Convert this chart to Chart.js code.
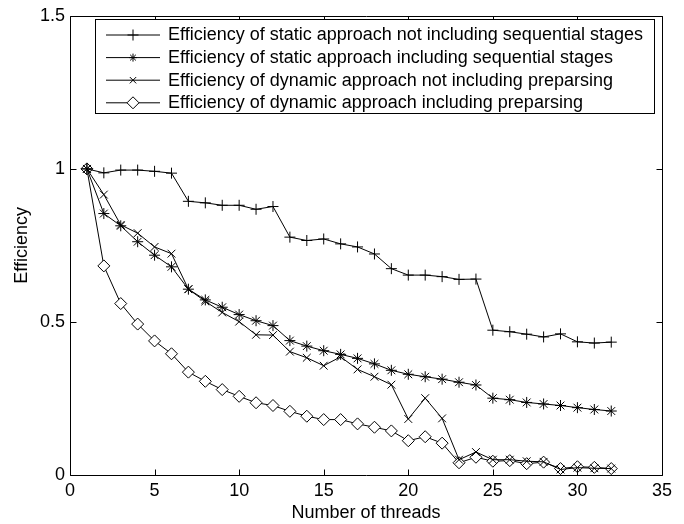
<!DOCTYPE html>
<html>
<head>
<meta charset="utf-8">
<script src="https://cdn.jsdelivr.net/npm/chart.js@4/dist/chart.umd.min.js"></script>
<style>
html,body{margin:0;padding:0;background:#fff;}
#wrap{width:684px;height:524px;position:relative;}
</style>
</head>
<body>
<div id="wrap"><canvas id="c" width="684" height="524"></canvas></div>
<script>
const threads = [1,2,3,4,5,6,7,8,9,10,11,12,13,14,15,16,17,18,19,20,21,22,23,24,25,26,27,28,29,30,31,32];
const staticNoSeq = [1.0,0.987,0.996,0.996,0.992,0.986,0.894,0.889,0.881,0.881,0.868,0.877,0.777,0.766,0.771,0.755,0.745,0.722,0.674,0.653,0.653,0.648,0.639,0.640,0.473,0.468,0.460,0.451,0.461,0.435,0.431,0.434];
const staticSeq = [1.0,0.854,0.814,0.762,0.718,0.680,0.607,0.572,0.548,0.524,0.504,0.488,0.439,0.421,0.406,0.394,0.381,0.363,0.342,0.329,0.321,0.313,0.303,0.294,0.251,0.246,0.237,0.232,0.227,0.220,0.214,0.209];
const dynNoPre = [1.0,0.916,0.817,0.790,0.745,0.723,0.607,0.567,0.531,0.501,0.458,0.457,0.403,0.383,0.357,0.386,0.345,0.321,0.295,0.183,0.251,0.185,0.050,0.075,0.050,0.050,0.045,0.043,0.018,0.024,0.022,0.021];
const dynPre = [1.0,0.683,0.560,0.493,0.438,0.396,0.336,0.306,0.279,0.257,0.236,0.227,0.208,0.192,0.181,0.181,0.167,0.156,0.144,0.112,0.125,0.104,0.040,0.058,0.045,0.047,0.037,0.042,0.021,0.027,0.025,0.021];
const seriesNames = [
  "Efficiency of static approach not including sequential stages",
  "Efficiency of static approach including sequential stages",
  "Efficiency of dynamic approach not including preparsing",
  "Efficiency of dynamic approach including preparsing"
];
const xTicks = [0,5,10,15,20,25,30,35];
const yTicks = [0,0.5,1,1.5];
const xTitle = "Number of threads";
const yTitle = "Efficiency";

const FONT = "'Liberation Sans', Arial, Helvetica, sans-serif";
const FS = 18;
const toPts = arr => threads.map((t,i)=>({x:t,y:arr[i]}));

const styles = [
  {pointStyle:'cross', pointRadius:5.5},
  {pointStyle:'star', pointRadius:5.5},
  {pointStyle:'crossRot', pointRadius:5.5},
  {pointStyle:'rectRot', pointRadius:6}
];
const values = [staticNoSeq, staticSeq, dynNoPre, dynPre];

const datasets = values.map((v,i)=>({
  label: seriesNames[i],
  data: toPts(v),
  borderColor:'#000',
  backgroundColor:'#fff',
  pointBorderColor:'#000',
  pointBackgroundColor:'#fff',
  borderWidth:1,
  pointBorderWidth:1,
  pointStyle: styles[i].pointStyle,
  pointRadius: styles[i].pointRadius,
  pointHoverRadius: styles[i].pointRadius,
  tension:0,
  fill:false
}));

const frame = {
  id:'frame',
  afterDraw(chart){
    const {ctx, chartArea:a, scales:{x,y}} = chart;
    ctx.save();
    ctx.strokeStyle='#000';
    ctx.lineWidth=1;
    ctx.beginPath();
    const L=Math.round(a.left)+0.5, R=Math.round(a.right)+0.5, T=Math.round(a.top)+0.5, B=Math.round(a.bottom)+0.5;
    ctx.rect(L,T,R-L,B-T);
    const tl=6;
    xTicks.forEach(v=>{
      const px=Math.round(x.getPixelForValue(v))+0.5;
      ctx.moveTo(px,B); ctx.lineTo(px,B-tl);
      ctx.moveTo(px,T); ctx.lineTo(px,T+tl);
    });
    yTicks.forEach(v=>{
      const py=Math.round(y.getPixelForValue(v))+0.5;
      ctx.moveTo(L,py); ctx.lineTo(L+tl,py);
      ctx.moveTo(R,py); ctx.lineTo(R-tl,py);
    });
    ctx.stroke();

    // legend
    const lx0=95.5, ly0=19.5, lw=559, lh=94;
    ctx.fillStyle='#fff';
    ctx.fillRect(lx0,ly0,lw,lh);
    ctx.strokeRect(lx0,ly0,lw,lh);
    ctx.font = FS + "px " + FONT;
    ctx.textBaseline='middle';
    ctx.textAlign='left';
    chart.data.datasets.forEach((ds,i)=>{
      const cy = 35 + i*22.6;
      ctx.beginPath();
      ctx.moveTo(106,cy); ctx.lineTo(160,cy);
      ctx.strokeStyle='#000'; ctx.lineWidth=1;
      ctx.stroke();
      const r = ds.pointStyle==='rectRot'?6:(ds.pointStyle==='star'?4:(ds.pointStyle==='crossRot'?4.5:5.5));
      ctx.fillStyle='#fff';
      Chart.helpers.drawPoint(ctx,{pointStyle:ds.pointStyle,radius:r,rotation:0,borderWidth:1},133,cy);
      ctx.fillStyle='#000';
      ctx.fillText(ds.label,168,cy+0.5);
    });
    ctx.restore();
  }
};

new Chart(document.getElementById('c'),{
  type:'line',
  data:{datasets},
  options:{
    responsive:false,
    animation:false,
    devicePixelRatio:1,
    layout:{padding:{left:0,top:10,right:22,bottom:0}},
    plugins:{legend:{display:false},tooltip:{enabled:false}},
    scales:{
      x:{
        type:'linear', min:0, max:35,
        afterBuildTicks(s){ s.ticks = xTicks.map(v=>({value:v})); },
        afterFit(s){ s.height = 49; },
        grid:{display:false, drawTicks:false},
        border:{display:false},
        ticks:{color:'#000', font:{family:FONT,size:FS}, padding:5, maxRotation:0, autoSkip:false},
        title:{display:true, text:xTitle, color:'#000', font:{family:FONT,size:FS}, padding:{top:0,bottom:0}}
      },
      y:{
        type:'linear', min:0, max:1.5,
        afterBuildTicks(s){ s.ticks = yTicks.map(v=>({value:v})); },
        afterFit(s){ s.width = 70; },
        grid:{display:false, drawTicks:false},
        border:{display:false},
        ticks:{color:'#000', font:{family:FONT,size:FS}, padding:5,
          callback:(v)=>String(v)},
        title:{display:true, text:yTitle, color:'#000', font:{family:FONT,size:FS}, padding:{top:11,bottom:0}}
      }
    }
  },
  plugins:[frame]
});
</script>
</body>
</html>
